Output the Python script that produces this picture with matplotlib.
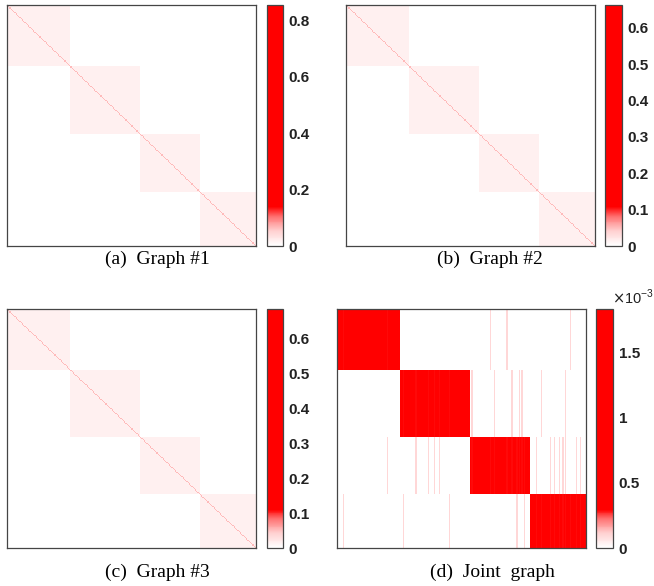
import numpy as np
import matplotlib
matplotlib.use('Agg')
import matplotlib.pyplot as plt
from matplotlib.colors import LinearSegmentedColormap


# four clusters, 200 nodes in total
cluster_sizes = [51, 56, 48, 45]

# single graphs #1..#3
graph_names = ['(a)  Graph #1', '(b)  Graph #2', '(c)  Graph #3']
in_block = [0.017, 0.013, 0.014]
off_lower = [0.002, 0.0015, 0.0015]
off_upper = [0.0005, 0.0004, 0.0004]
self_weight = [0.065, 0.05, 0.052]
cmax = [0.855, 0.663, 0.683]
cticks = [
    [0, 0.2, 0.4, 0.6, 0.8],
    [0, 0.1, 0.2, 0.3, 0.4, 0.5, 0.6],
    [0, 0.1, 0.2, 0.3, 0.4, 0.5, 0.6],
]

# joint graph
joint_block = 1.83e-3
joint_mixed_home = 0.29e-3
joint_stripe = 0.1e-3
joint_cmax = 1.83e-3
joint_ticks = [0, 0.5e-3, 1e-3, 1.5e-3]
joint_tick_labels = ['0', '0.5', '1', '1.5']

# columns (nodes) that also link into another cluster's rows
stripes_cluster1 = [123, 136, 187]
stripes_cluster2 = [108, 126, 140, 146, 148, 164, 183]
stripes_cluster3 = [40, 63, 73, 78, 82, 160, 171, 174, 178, 181, 183, 192, 195]
stripes_cluster4 = [5, 53, 90, 144, 150]


white_red = LinearSegmentedColormap.from_list('white_red', [
    (0.0, (1, 1, 1)),
    (0.06, (1, 0.82, 0.82)),
    (0.12, (1, 0.45, 0.45)),
    (0.16, (1, 0, 0)),
    (1.0, (1, 0, 0)),
])


def cluster_ranges():
    bounds = np.concatenate([[0], np.cumsum(cluster_sizes)])
    return [(bounds[i], bounds[i + 1]) for i in range(len(cluster_sizes))]


def single_graph(k):
    n = sum(cluster_sizes)
    W = np.full((n, n), off_upper[k])
    W[np.tril_indices(n, -1)] = off_lower[k]
    for a, b in cluster_ranges():
        W[a:b, a:b] = in_block[k]
    W[np.diag_indices(n)] = self_weight[k]
    return W


def joint_graph():
    n = sum(cluster_sizes)
    ranges = cluster_ranges()
    W = np.zeros((n, n))
    for a, b in ranges:
        W[a:b, a:b] = joint_block
    stripes = [stripes_cluster1, stripes_cluster2, stripes_cluster3, stripes_cluster4]
    for row_cluster, cols in enumerate(stripes):
        ra, rb = ranges[row_cluster]
        for j in cols:
            home = [i for i, (a, b) in enumerate(ranges) if a <= j < b][0]
            ha, hb = ranges[home]
            W[ha:hb, j] = joint_mixed_home
            W[ra:rb, j] = joint_stripe
    return W


def px_axes(fig, x0, y0, x1, y1):
    W, H = 654, 586
    return fig.add_axes([x0 / W, 1 - y1 / H, (x1 - x0) / W, (y1 - y0) / H])


def draw_panel(fig, W, vmax, ticks, labels, box, cbox):
    ax = px_axes(fig, *box)
    im = ax.imshow(W, cmap=white_red, vmin=0, vmax=vmax, aspect='auto',
                   interpolation='nearest')
    ax.set_xticks([])
    ax.set_yticks([])
    for s in ax.spines.values():
        s.set_color('#454545')
        s.set_linewidth(0.9)

    cax = px_axes(fig, *cbox)
    cb = fig.colorbar(im, cax=cax, ticks=ticks)
    cb.ax.set_yticklabels(labels)
    cb.outline.set_edgecolor('#454545')
    cb.outline.set_linewidth(0.9)
    cax.tick_params(length=0, pad=4, labelsize=11, colors='#222222')
    for lbl in cax.get_yticklabels():
        lbl.set_fontweight('bold')
        lbl.set_family('Liberation Sans')
    return ax, cax


fig = plt.figure(figsize=(6.54, 5.86), dpi=100)

boxes = [(7, 5, 256, 246), (346, 5, 595, 246), (7, 309, 256, 548)]
cboxes = [(267, 5, 283, 246), (605, 5, 622, 246), (267, 309, 283, 548)]
caption_xy = [(157, 259), (490, 259), (157, 572)]

for k in range(3):
    draw_panel(fig, single_graph(k), cmax[k], cticks[k],
               [f'{t:g}' for t in cticks[k]], boxes[k], cboxes[k])
    cx, cy = caption_xy[k]
    fig.text(cx / 654, 1 - cy / 586, graph_names[k], ha='center', va='center',
             fontsize=14, family='Liberation Serif')

draw_panel(fig, joint_graph(), joint_cmax, joint_ticks, joint_tick_labels,
           (337, 309, 586, 548), (596, 309, 613, 548))
fig.text(492 / 654, 1 - 572 / 586, '(d)  Joint  graph', ha='center', va='center',
         fontsize=14, family='Liberation Serif')
fig.text(612 / 654, 1 - 297 / 586, r'$\times$10$^{\mathregular{-3}}$', ha='left', va='center',
         fontsize=10.5, family='Liberation Sans', color='#222222')

fig.savefig('out.png', dpi=100)
